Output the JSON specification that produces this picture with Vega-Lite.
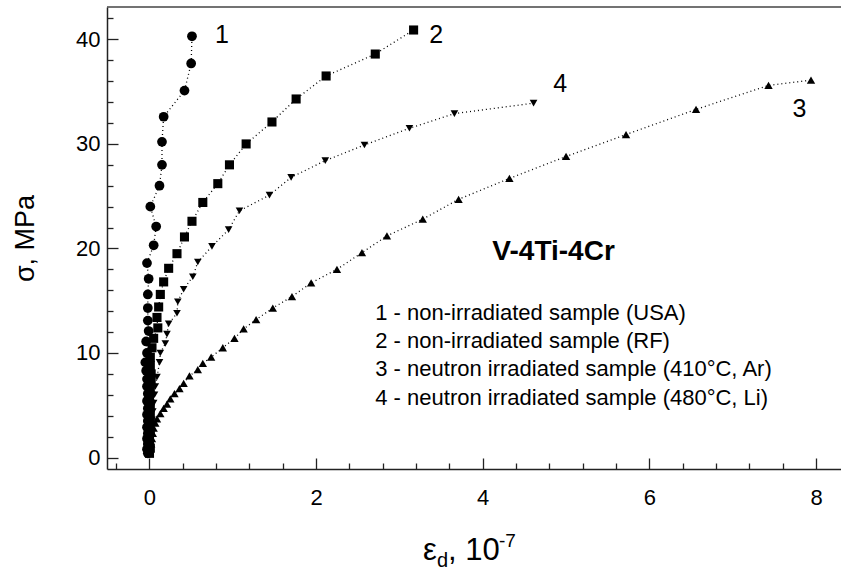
{
  "$schema": "https://vega.github.io/schema/vega-lite/v6.json",
  "width": 734,
  "height": 462,
  "autosize": "none",
  "padding": {"left": 107, "top": 7, "right": 0, "bottom": 109},
  "background": "white",
  "config": {
    "view": {"stroke": null},
    "font": "Liberation Sans",
    "text": {"font": "Liberation Sans", "color": "black"},
    "axis": {
      "domainColor": "#222222",
      "domainWidth": 1.5,
      "ticks": true,
      "tickColor": "#222222",
      "tickWidth": 1.3,
      "grid": false,
      "labelFont": "Liberation Sans",
      "labelFontSize": 22,
      "labelColor": "black",
      "labelOverlap": false,
      "labelFlush": false,
      "labelBound": false,
      "titleFont": "Liberation Sans",
      "titleColor": "black",
      "titleFontWeight": "normal"
    }
  },
  "datasets": {
    "points": [
      {"series": "1", "eps": -0.02, "sigma": 0.4}, {"series": "1", "eps": -0.03, "sigma": 0.8}, {"series": "1", "eps": -0.02, "sigma": 1.3}, {"series": "1", "eps": -0.03, "sigma": 1.8}, {"series": "1", "eps": -0.02, "sigma": 2.3}, {"series": "1", "eps": -0.03, "sigma": 2.9}, {"series": "1", "eps": -0.02, "sigma": 3.5}, {"series": "1", "eps": -0.03, "sigma": 4.1}, {"series": "1", "eps": -0.02, "sigma": 4.7}, {"series": "1", "eps": -0.03, "sigma": 5.4}, {"series": "1", "eps": -0.02, "sigma": 6.1}, {"series": "1", "eps": -0.03, "sigma": 6.8}, {"series": "1", "eps": -0.03, "sigma": 7.5}, {"series": "1", "eps": -0.04, "sigma": 8.3}, {"series": "1", "eps": -0.05, "sigma": 9.1}, {"series": "1", "eps": -0.03, "sigma": 10.0}, {"series": "1", "eps": -0.04, "sigma": 11.1}, {"series": "1", "eps": -0.01, "sigma": 12.1}, {"series": "1", "eps": -0.02, "sigma": 13.1}, {"series": "1", "eps": -0.02, "sigma": 14.3}, {"series": "1", "eps": -0.02, "sigma": 15.6}, {"series": "1", "eps": -0.01, "sigma": 17.1}, {"series": "1", "eps": -0.03, "sigma": 18.6}, {"series": "1", "eps": 0.05, "sigma": 20.3}, {"series": "1", "eps": 0.08, "sigma": 22.1}, {"series": "1", "eps": 0.01, "sigma": 24.0}, {"series": "1", "eps": 0.12, "sigma": 26.0}, {"series": "1", "eps": 0.15, "sigma": 28.0}, {"series": "1", "eps": 0.15, "sigma": 30.2}, {"series": "1", "eps": 0.17, "sigma": 32.6}, {"series": "1", "eps": 0.42, "sigma": 35.1}, {"series": "1", "eps": 0.50, "sigma": 37.7}, {"series": "1", "eps": 0.51, "sigma": 40.3},
      {"series": "2", "eps": 0.0, "sigma": 0.4}, {"series": "2", "eps": 0.01, "sigma": 0.9}, {"series": "2", "eps": 0.0, "sigma": 1.6}, {"series": "2", "eps": 0.01, "sigma": 2.4}, {"series": "2", "eps": 0.0, "sigma": 3.2}, {"series": "2", "eps": 0.01, "sigma": 4.0}, {"series": "2", "eps": 0.01, "sigma": 4.8}, {"series": "2", "eps": 0.0, "sigma": 5.6}, {"series": "2", "eps": 0.01, "sigma": 6.4}, {"series": "2", "eps": 0.02, "sigma": 7.2}, {"series": "2", "eps": 0.02, "sigma": 8.0}, {"series": "2", "eps": 0.01, "sigma": 8.8}, {"series": "2", "eps": 0.01, "sigma": 9.6}, {"series": "2", "eps": 0.03, "sigma": 10.5}, {"series": "2", "eps": 0.05, "sigma": 11.4}, {"series": "2", "eps": 0.10, "sigma": 12.4}, {"series": "2", "eps": 0.09, "sigma": 13.4}, {"series": "2", "eps": 0.11, "sigma": 14.4}, {"series": "2", "eps": 0.13, "sigma": 15.6}, {"series": "2", "eps": 0.17, "sigma": 16.8}, {"series": "2", "eps": 0.23, "sigma": 18.1}, {"series": "2", "eps": 0.33, "sigma": 19.5}, {"series": "2", "eps": 0.42, "sigma": 21.1}, {"series": "2", "eps": 0.51, "sigma": 22.6}, {"series": "2", "eps": 0.64, "sigma": 24.4}, {"series": "2", "eps": 0.82, "sigma": 26.2}, {"series": "2", "eps": 0.96, "sigma": 28.0}, {"series": "2", "eps": 1.16, "sigma": 30.0}, {"series": "2", "eps": 1.47, "sigma": 32.1}, {"series": "2", "eps": 1.76, "sigma": 34.3}, {"series": "2", "eps": 2.12, "sigma": 36.5}, {"series": "2", "eps": 2.71, "sigma": 38.6}, {"series": "2", "eps": 3.17, "sigma": 40.9},
      {"series": "4", "eps": 0.005, "sigma": 0.5}, {"series": "4", "eps": 0.01, "sigma": 1.2}, {"series": "4", "eps": 0.015, "sigma": 2.0}, {"series": "4", "eps": 0.02, "sigma": 2.8}, {"series": "4", "eps": 0.03, "sigma": 3.6}, {"series": "4", "eps": 0.04, "sigma": 4.4}, {"series": "4", "eps": 0.05, "sigma": 5.2}, {"series": "4", "eps": 0.06, "sigma": 6.0}, {"series": "4", "eps": 0.07, "sigma": 6.8}, {"series": "4", "eps": 0.09, "sigma": 7.7}, {"series": "4", "eps": 0.12, "sigma": 9.1}, {"series": "4", "eps": 0.13, "sigma": 10.0}, {"series": "4", "eps": 0.19, "sigma": 10.9}, {"series": "4", "eps": 0.21, "sigma": 11.8}, {"series": "4", "eps": 0.23, "sigma": 12.8}, {"series": "4", "eps": 0.33, "sigma": 13.8}, {"series": "4", "eps": 0.34, "sigma": 14.9}, {"series": "4", "eps": 0.41, "sigma": 16.1}, {"series": "4", "eps": 0.52, "sigma": 17.3}, {"series": "4", "eps": 0.58, "sigma": 18.7}, {"series": "4", "eps": 0.75, "sigma": 20.2}, {"series": "4", "eps": 0.95, "sigma": 21.8}, {"series": "4", "eps": 1.08, "sigma": 23.6}, {"series": "4", "eps": 1.44, "sigma": 25.1}, {"series": "4", "eps": 1.70, "sigma": 26.8}, {"series": "4", "eps": 2.11, "sigma": 28.4}, {"series": "4", "eps": 2.58, "sigma": 29.9}, {"series": "4", "eps": 3.12, "sigma": 31.5}, {"series": "4", "eps": 3.66, "sigma": 32.9}, {"series": "4", "eps": 4.61, "sigma": 33.9},
      {"series": "3", "eps": 0.005, "sigma": 0.4}, {"series": "3", "eps": 0.01, "sigma": 0.8}, {"series": "3", "eps": 0.02, "sigma": 1.3}, {"series": "3", "eps": 0.03, "sigma": 1.8}, {"series": "3", "eps": 0.04, "sigma": 2.3}, {"series": "3", "eps": 0.05, "sigma": 2.8}, {"series": "3", "eps": 0.07, "sigma": 3.3}, {"series": "3", "eps": 0.09, "sigma": 3.7}, {"series": "3", "eps": 0.13, "sigma": 4.2}, {"series": "3", "eps": 0.17, "sigma": 4.7}, {"series": "3", "eps": 0.21, "sigma": 5.1}, {"series": "3", "eps": 0.25, "sigma": 5.6}, {"series": "3", "eps": 0.30, "sigma": 6.1}, {"series": "3", "eps": 0.36, "sigma": 6.6}, {"series": "3", "eps": 0.41, "sigma": 7.1}, {"series": "3", "eps": 0.48, "sigma": 7.8}, {"series": "3", "eps": 0.58, "sigma": 8.4}, {"series": "3", "eps": 0.64, "sigma": 9.0}, {"series": "3", "eps": 0.74, "sigma": 9.6}, {"series": "3", "eps": 0.88, "sigma": 10.5}, {"series": "3", "eps": 1.02, "sigma": 11.4}, {"series": "3", "eps": 1.13, "sigma": 12.3}, {"series": "3", "eps": 1.28, "sigma": 13.2}, {"series": "3", "eps": 1.48, "sigma": 14.3}, {"series": "3", "eps": 1.71, "sigma": 15.4}, {"series": "3", "eps": 1.94, "sigma": 16.7}, {"series": "3", "eps": 2.25, "sigma": 18.0}, {"series": "3", "eps": 2.55, "sigma": 19.6}, {"series": "3", "eps": 2.85, "sigma": 21.2}, {"series": "3", "eps": 3.28, "sigma": 22.8}, {"series": "3", "eps": 3.71, "sigma": 24.7}, {"series": "3", "eps": 4.32, "sigma": 26.7}, {"series": "3", "eps": 5.00, "sigma": 28.8}, {"series": "3", "eps": 5.72, "sigma": 30.9}, {"series": "3", "eps": 6.56, "sigma": 33.3}, {"series": "3", "eps": 7.43, "sigma": 35.6}, {"series": "3", "eps": 7.94, "sigma": 36.1}
    ]
  },
  "data": {"name": "points"},
  "encoding": {
    "x": {
      "field": "eps", "type": "quantitative",
      "scale": {"domain": [-0.51, 8.3], "nice": false, "zero": false},
      "axis": {
        "values": [-0.4, 0, 0.4, 0.8, 1.2, 1.6, 2, 2.4, 2.8, 3.2, 3.6, 4, 4.4, 4.8, 5.2, 5.6, 6, 6.4, 6.8, 7.2, 7.6, 8],
        "labelExpr": "datum.value % 2 === 0 ? format(datum.value, 'd') : ''",
        "tickSize": {"condition": {"test": "datum.value % 2 === 0", "value": -11}, "value": -6},
        "labelPadding": 29,
        "labelFlush": false,
        "labelOverlap": false,
        "title": null
      }
    },
    "y": {
      "field": "sigma", "type": "quantitative",
      "scale": {"domain": [-1.1, 43.1], "nice": false, "zero": false},
      "axis": {
        "values": [0, 2, 4, 6, 8, 10, 12, 14, 16, 18, 20, 22, 24, 26, 28, 30, 32, 34, 36, 38, 40, 42],
        "labelExpr": "datum.value % 10 === 0 ? format(datum.value, 'd') : ''",
        "tickSize": {"condition": {"test": "datum.value % 10 === 0", "value": -11}, "value": -6},
        "labelPadding": 18,
        "labelFlush": false,
        "labelOverlap": false,
        "title": "σ, MPa",
        "titleFontSize": 27,
        "titlePadding": 36
      }
    }
  },
  "layer": [
    {
      "mark": {"type": "line", "color": "black", "strokeWidth": 1.3, "strokeDash": [1, 3]},
      "encoding": {
        "detail": {"field": "series"},
        "order": {"field": "sigma", "type": "quantitative"}
      }
    },
    {
      "mark": {"type": "point", "filled": true, "opacity": 1, "color": "black"},
      "encoding": {
        "shape": {"field": "series", "type": "nominal", "scale": {"domain": ["1", "2", "3", "4"], "range": ["circle", "square", "triangle-up", "triangle-down"]}, "legend": null},
        "size": {"field": "series", "type": "nominal", "scale": {"domain": ["1", "2", "3", "4"], "range": [95, 58, 55, 65]}, "legend": null}
      }
    },
    {
      "transform": [{"filter": "datum.sigma === 36.1"}],
      "mark": {"type": "rule", "color": "#444444", "strokeWidth": 1.5},
      "encoding": {"x": null, "y": {"datum": 43.1}}
    },
    {
      "transform": [{"filter": "datum.sigma === 36.1"}],
      "mark": {"type": "text", "text": "1", "fontSize": 25, "align": "center", "baseline": "middle"},
      "encoding": {"x": {"datum": 0.87}, "y": {"datum": 40.4}}
    },
    {
      "transform": [{"filter": "datum.sigma === 36.1"}],
      "mark": {"type": "text", "text": "2", "fontSize": 25, "align": "center", "baseline": "middle"},
      "encoding": {"x": {"datum": 3.44}, "y": {"datum": 40.45}}
    },
    {
      "transform": [{"filter": "datum.sigma === 36.1"}],
      "mark": {"type": "text", "text": "4", "fontSize": 25, "align": "center", "baseline": "middle"},
      "encoding": {"x": {"datum": 4.93}, "y": {"datum": 35.7}}
    },
    {
      "transform": [{"filter": "datum.sigma === 36.1"}],
      "mark": {"type": "text", "text": "3", "fontSize": 25, "align": "center", "baseline": "middle"},
      "encoding": {"x": {"datum": 7.8}, "y": {"datum": 33.3}}
    },
    {
      "transform": [{"filter": "datum.sigma === 36.1"}],
      "mark": {"type": "text", "text": "V-4Ti-4Cr", "fontSize": 28, "fontWeight": "bold", "align": "center", "baseline": "middle"},
      "encoding": {"x": {"datum": 4.85}, "y": {"datum": 19.65}}
    },
    {
      "transform": [{"filter": "datum.sigma === 36.1"}],
      "mark": {"type": "text", "text": ["1 - non-irradiated sample (USA)", "2 - non-irradiated sample (RF)", "3 - neutron irradiated sample (410°C, Ar)", "4 - neutron irradiated sample (480°C, Li)"], "fontSize": 22, "lineHeight": 28.3, "align": "left", "baseline": "top"},
      "encoding": {"x": {"datum": 2.71}, "y": {"datum": 14.8}}
    },
    {
      "transform": [{"filter": "datum.sigma === 36.1"}],
      "mark": {"type": "text", "text": "ε", "fontSize": 31, "align": "right", "baseline": "alphabetic", "clip": false},
      "encoding": {"x": {"datum": 3.45}, "y": {"datum": -9.8}}
    },
    {
      "transform": [{"filter": "datum.sigma === 36.1"}],
      "mark": {"type": "text", "text": "d", "fontSize": 20, "align": "left", "baseline": "alphabetic", "dy": 7, "clip": false},
      "encoding": {"x": {"datum": 3.45}, "y": {"datum": -9.8}}
    },
    {
      "transform": [{"filter": "datum.sigma === 36.1"}],
      "mark": {"type": "text", "text": ", 10", "fontSize": 31, "align": "left", "baseline": "alphabetic", "dx": 11, "clip": false},
      "encoding": {"x": {"datum": 3.45}, "y": {"datum": -9.8}}
    },
    {
      "transform": [{"filter": "datum.sigma === 36.1"}],
      "mark": {"type": "text", "text": "-7", "fontSize": 19, "align": "left", "baseline": "alphabetic", "dx": 62, "dy": -13, "clip": false},
      "encoding": {"x": {"datum": 3.45}, "y": {"datum": -9.8}}
    }
  ]
}
